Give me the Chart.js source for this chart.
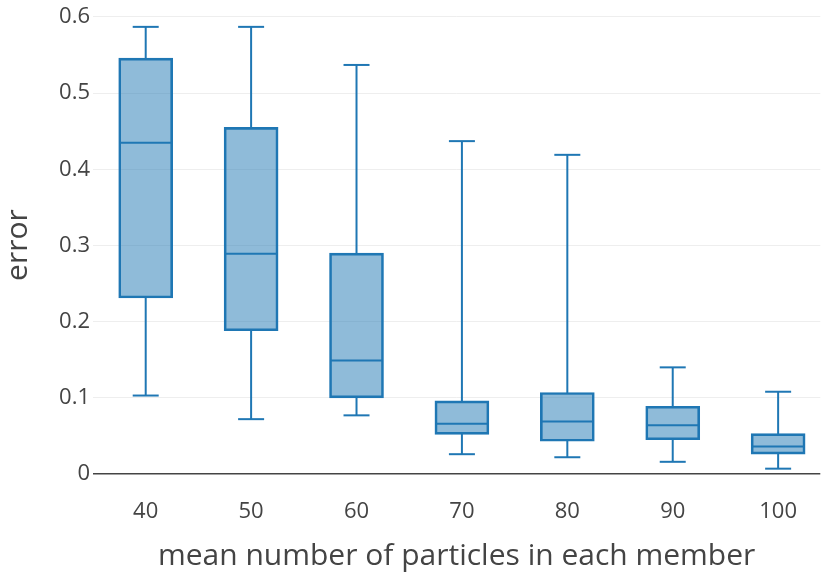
<!DOCTYPE html>
<html>
<head>
<meta charset="utf-8">
<script src="https://cdn.jsdelivr.net/npm/chart.js@4/dist/chart.umd.min.js"></script>
<style>
  html, body { margin: 0; padding: 0; background: #fff; overflow: hidden; }
  #wrap { width: 822px; height: 576px; }
</style>
</head>
<body>
<div id="wrap"><canvas id="chart" width="822" height="576"></canvas></div>
<script>
// mean number of particles (categories)
const particles = [40, 50, 60, 70, 80, 90, 100];

// box statistics
const whiskerLow = [0.103, 0.072, 0.077, 0.026, 0.022, 0.016, 0.007];
const q1 = [0.231, 0.188, 0.100, 0.052, 0.043, 0.045, 0.026];
const median = [0.435, 0.289, 0.149, 0.066, 0.069, 0.064, 0.036];
const q3 = [0.546, 0.455, 0.290, 0.096, 0.107, 0.089, 0.053];
const whiskerHigh = [0.587, 0.587, 0.537, 0.437, 0.419, 0.140, 0.108];

const yTicks = [0, 0.1, 0.2, 0.3, 0.4, 0.5, 0.6];

const lineColor = '#1f77b4';
const fillColor = 'rgba(31,119,180,0.5)';
const textColor = '#444';

// whiskers, caps and medians on top of the floating bars
const boxPlugin = {
	id: 'boxParts',
	afterDatasetsDraw(chart) {
		const ctx = chart.ctx;
		const y = chart.scales.y;
		const meta = chart.getDatasetMeta(0);
		ctx.save();
		ctx.strokeStyle = lineColor;
		ctx.lineWidth = 2;
		meta.data.forEach((bar, i) => {
			const cx = bar.x;
			const half = bar.width / 2 - 1; // stroke centre
			const cap = half / 2;
			const line = (x1, y1, x2, y2) => {
				ctx.beginPath();
				ctx.moveTo(x1, y1);
				ctx.lineTo(x2, y2);
				ctx.stroke();
			};
			const pq1 = y.getPixelForValue(q1[i]) - 1;
			const pq3 = y.getPixelForValue(q3[i]) + 1;
			const pLo = y.getPixelForValue(whiskerLow[i]);
			const pHi = y.getPixelForValue(whiskerHigh[i]);
			const pMed = y.getPixelForValue(median[i]);
			line(cx, pq3, cx, pHi);
			line(cx - cap, pHi, cx + cap, pHi);
			line(cx, pq1, cx, pLo);
			line(cx - cap, pLo, cx + cap, pLo);
			line(cx - half, pMed, cx + half, pMed);
		});
		ctx.restore();
	}
};

const ctx = document.getElementById('chart').getContext('2d');
const chart = new Chart(ctx, {
	type: 'bar',
	data: {
		datasets: [{
			data: particles.map((p, i) => ({ x: p, y: [q1[i], q3[i]] })),
			backgroundColor: fillColor,
			borderColor: lineColor,
			borderWidth: 2,
			borderSkipped: false,
			barThickness: 54
		}]
	},
	options: {
		responsive: false,
		animation: false,
		layout: { padding: 0 },
		plugins: {
			legend: { display: false },
			tooltip: { enabled: false }
		},
		scales: {
			x: {
				type: 'linear',
				offset: false,
				min: 35,
				max: 104,
				afterBuildTicks: (scale) => { scale.ticks = particles.map(v => ({ value: v })); },
				afterFit: (scale) => { scale.height = 102; },
				grid: { display: false, drawTicks: false },
				border: { display: false },
				ticks: {
					color: textColor,
					font: { family: 'Open Sans', size: 22 },
					padding: 25,
					maxRotation: 0
				},
				title: {
					display: true,
					text: 'mean number of particles in each member',
					color: textColor,
					font: { family: 'Open Sans', size: 30 },
					padding: { top: 0, bottom: 2 }
				}
			},
			y: {
				min: 0,
				max: 0.601,
				afterBuildTicks: (scale) => { scale.ticks = yTicks.map(v => ({ value: v })); },
				afterFit: (scale) => { scale.width = 93; },
				grid: {
					drawTicks: false,
					color: (c) => c.tick && c.tick.value === 0 ? '#444' : '#eeeeee',
					lineWidth: (c) => c.tick && c.tick.value === 0 ? 1.5 : 1
				},
				border: { display: false },
				ticks: {
					color: textColor,
					font: { family: 'Open Sans', size: 22 },
					padding: 3
				},
				title: {
					display: true,
					text: 'error',
					color: textColor,
					font: { family: 'Open Sans', size: 30 },
					padding: { top: 0, bottom: 0 }
				}
			}
		}
	},
	plugins: [boxPlugin]
});
</script>
</body>
</html>
